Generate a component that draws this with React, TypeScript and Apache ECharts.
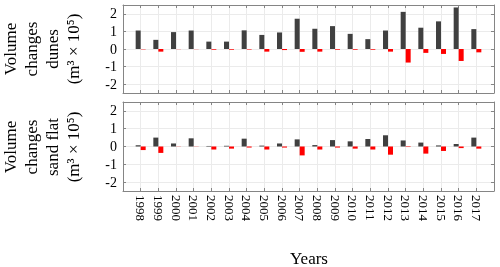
import React, { useEffect, useRef } from 'react';
import * as echarts from 'echarts';

const years = [1998, 1999, 2000, 2001, 2002, 2003, 2004, 2005, 2006, 2007, 2008, 2009, 2010, 2011, 2012, 2013, 2014, 2015, 2016, 2017];
const dunesGain = [1.05, 0.52, 0.96, 1.05, 0.42, 0.42, 1.06, 0.8, 0.94, 1.72, 1.15, 1.3, 0.86, 0.56, 1.05, 2.11, 1.21, 1.57, 2.36, 1.13];
const dunesLoss = [-0.02, -0.15, -0.01, -0.01, -0.04, -0.04, -0.03, -0.15, -0.06, -0.16, -0.15, -0.04, -0.04, -0.04, -0.15, -0.77, -0.22, -0.28, -0.68, -0.19];
const sandGain = [0.07, 0.5, 0.17, 0.46, 0.03, 0.04, 0.44, 0.05, 0.17, 0.4, 0.08, 0.36, 0.29, 0.42, 0.63, 0.34, 0.22, 0.06, 0.14, 0.5];
const sandLoss = [-0.2, -0.36, -0.01, -0.01, -0.17, -0.12, -0.06, -0.17, -0.06, -0.5, -0.17, -0.06, -0.12, -0.17, -0.46, -0.03, -0.4, -0.25, -0.09, -0.12];
const yTitles = ['Volume\nchanges\ndunes\n(m³ × 10⁵)', 'Volume\nchanges\nsand flat\n(m³ × 10⁵)'];
const xTitle = 'Years';

const FONT = 'Liberation Serif';
const AXIS_COLOR = '#858585';
const GRID_COLOR = '#ebebeb';

export default function App() {
  const ref = useRef<HTMLDivElement>(null);
  useEffect(() => {
    const chart = echarts.init(ref.current!, null, { renderer: 'svg' });
    const grids = [
      { left: 123, top: 5, width: 371, height: 88 },
      { left: 123, top: 102, width: 371, height: 89 },
    ];
    const xAxis: any[] = [];
    const yAxis: any[] = [];
    grids.forEach((_, g) => {
      const base = {
        type: 'value', gridIndex: g, min: 1997, max: 2018, interval: 1,
        axisLine: { show: true, onZero: false, lineStyle: { color: AXIS_COLOR, width: 1 } },
        axisTick: { show: true, inside: true, length: 3, lineStyle: { color: AXIS_COLOR } },
      };
      xAxis.push({
        ...base,
        position: 'bottom',
        splitLine: { show: true, lineStyle: { color: GRID_COLOR, width: 1 } },
        axisLabel: g === 1 ? {
          show: true, rotate: -90, margin: 4, fontFamily: FONT, fontSize: 13, color: '#000',
          formatter: (v: number) => (v >= years[0] && v <= years[years.length - 1] ? String(v) : ''),
        } : { show: false },
      });
      xAxis.push({ ...base, position: 'top', splitLine: { show: false }, axisLabel: { show: false } });
      const ybase = {
        type: 'value', gridIndex: g, min: -2.5, max: 2.5, splitNumber: 5,
        axisLine: { show: true, onZero: false, lineStyle: { color: AXIS_COLOR, width: 1 } },
        axisTick: { show: true, inside: true, length: 3, lineStyle: { color: AXIS_COLOR } },
      };
      yAxis.push({
        ...ybase,
        position: 'left',
        splitLine: { show: true, lineStyle: { color: GRID_COLOR, width: 1 } },
        axisLabel: {
          show: true, margin: 6, fontFamily: FONT, fontSize: 14, color: '#000',
          formatter: (v: number) => (Number.isInteger(v) ? String(v) : ''),
        },
      });
      yAxis.push({ ...ybase, position: 'right', splitLine: { show: false }, axisLabel: { show: false } });
    });
    const mk = (vals: number[]) => years.map((y, i) => [y, vals[i]]);
    const series: any[] = [
      { type: 'bar', xAxisIndex: 0, yAxisIndex: 0, data: mk(dunesGain), barWidth: 5, barGap: '0%', itemStyle: { color: '#404040' } },
      { type: 'bar', xAxisIndex: 0, yAxisIndex: 0, data: mk(dunesLoss), barWidth: 5, barGap: '0%', itemStyle: { color: '#ff0000' } },
      { type: 'bar', xAxisIndex: 2, yAxisIndex: 2, data: mk(sandGain), barWidth: 5, barGap: '0%', itemStyle: { color: '#404040' } },
      { type: 'bar', xAxisIndex: 2, yAxisIndex: 2, data: mk(sandLoss), barWidth: 5, barGap: '0%', itemStyle: { color: '#ff0000' } },
    ];
    const titleStyle = { fontFamily: FONT, fontSize: 17, fill: '#000', align: 'center', verticalAlign: 'middle', lineHeight: 21 };
    chart.setOption({
      animation: false,
      grid: grids,
      xAxis,
      yAxis,
      series,
      graphic: [
        { type: 'text', x: 42, y: 49, rotation: Math.PI / 2, style: { ...titleStyle, text: yTitles[0] } },
        { type: 'text', x: 42, y: 147, rotation: Math.PI / 2, style: { ...titleStyle, text: yTitles[1] } },
        { type: 'text', x: 309, y: 258, style: { fontFamily: FONT, fontSize: 17, fill: '#000', align: 'center', verticalAlign: 'middle', text: xTitle } },
      ],
    });
    return () => chart.dispose();
  }, []);
  return <div ref={ref} style={{ position: 'fixed', left: 0, top: 0, width: 500, height: 267 }} />;
}
